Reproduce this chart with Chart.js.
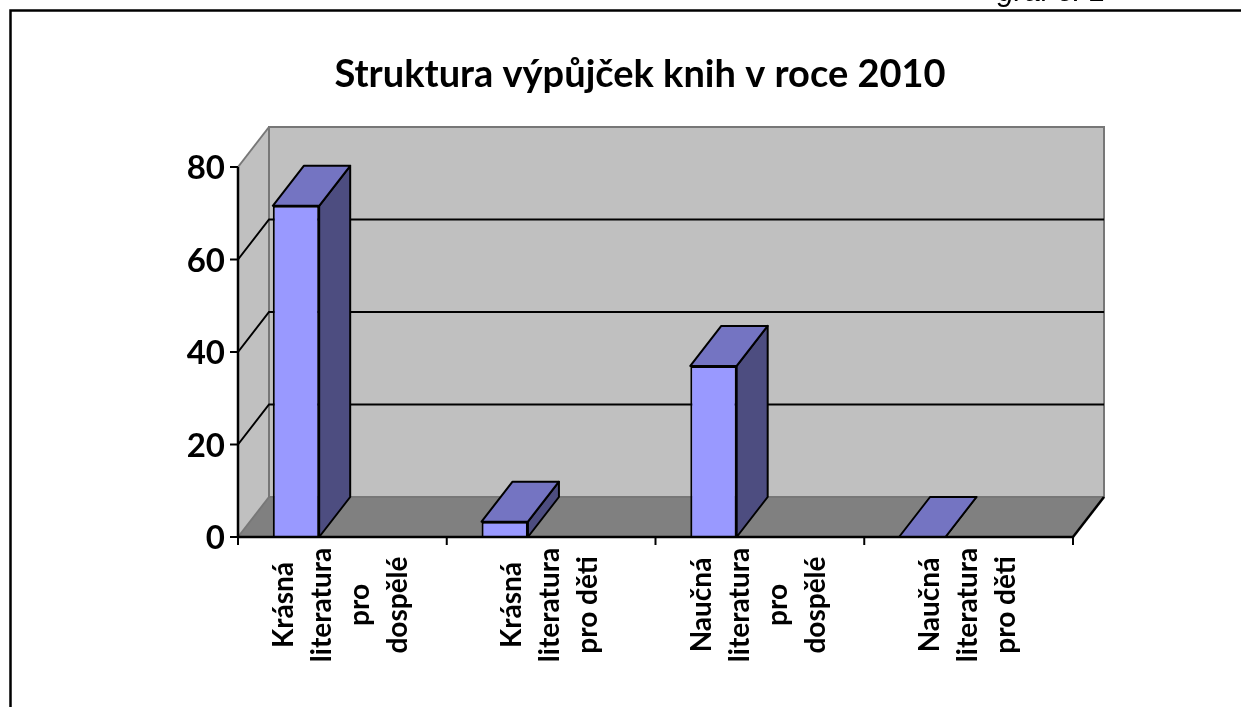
<!DOCTYPE html>
<html>
<head>
<meta charset="utf-8">
<script src="https://cdn.jsdelivr.net/npm/chart.js@4"></script>
<style>
  html, body { margin: 0; padding: 0; background: #fff; }
  #wrap { position: relative; width: 1241px; height: 707px; }
</style>
</head>
<body>
<div id="wrap"><canvas id="chart"></canvas></div>
<script>
// data
const chartTitle = "Struktura výpůjček knih v roce 2010";
const cornerNote = "graf č. 1";
const categories = [
  ["Krásná", "literatura", "pro", "dospělé"],
  ["Krásná", "literatura", "pro děti"],
  ["Naučná", "literatura", "pro", "dospělé"],
  ["Naučná", "literatura", "pro děti"],
];
const values = [71.6, 3.3, 37.0, 0];
// the original sheet has two more (empty) series, they only take up slots
const emptySeries = [null, null, null, null];
const yTicks = [0, 20, 40, 60, 80];

const DX = 31, DY = -40; // depth of the 3d box
const FONT = "Lato, 'Open Sans', sans-serif";

function poly(ctx, pts) {
  ctx.beginPath();
  ctx.moveTo(pts[0][0], pts[0][1]);
  for (let i = 1; i < pts.length; i++) ctx.lineTo(pts[i][0], pts[i][1]);
  ctx.closePath();
}

function line(ctx, x1, y1, x2, y2) {
  ctx.beginPath();
  ctx.moveTo(x1, y1);
  ctx.lineTo(x2, y2);
  ctx.stroke();
}

const scene3d = {
  id: "scene3d",
  beforeDraw(chart) {
    const { ctx, width, height } = chart;
    ctx.save();
    ctx.strokeStyle = "#000";
    ctx.lineWidth = 2.5;
    ctx.beginPath();
    ctx.moveTo(10.5, height);
    ctx.lineTo(10.5, 10.5);
    ctx.lineTo(width, 10.5);
    ctx.stroke();

    ctx.fillStyle = "#000";
    ctx.font = "italic 30px 'Liberation Sans', sans-serif";
    ctx.textAlign = "right";
    ctx.textBaseline = "alphabetic";
    ctx.fillText(cornerNote, 1106, 1);

    ctx.font = "bold 38px " + FONT;
    ctx.textAlign = "center";
    ctx.fillText(chartTitle, 640, 87);
    ctx.restore();
  },
  beforeDatasetsDraw(chart) {
    const { ctx } = chart;
    const { left, right } = chart.chartArea;
    const ys = chart.scales.y;
    const top = ys.getPixelForValue(ys.max);
    const bottom = ys.getPixelForValue(0);
    ctx.save();
    // side wall + back wall
    ctx.fillStyle = "#c0c0c0";
    poly(ctx, [[left, top], [left + DX, top + DY], [left + DX, bottom + DY], [left, bottom]]);
    ctx.fill();
    ctx.fillRect(left + DX, top + DY, right - left, bottom - top);
    // floor
    ctx.fillStyle = "#808080";
    poly(ctx, [[left, bottom], [left + DX, bottom + DY], [right + DX, bottom + DY], [right, bottom]]);
    ctx.fill();

    // wall edges
    ctx.strokeStyle = "#777";
    ctx.lineWidth = 2;
    ctx.strokeRect(left + DX, top + DY, right - left, bottom - top);
    line(ctx, left, top, left + DX, top + DY);
    line(ctx, left, bottom, left + DX, bottom + DY);

    // grid lines on side and back wall
    ctx.strokeStyle = "#000";
    ctx.lineWidth = 2;
    yTicks.forEach((v) => {
      if (v <= 0 || v >= ys.max) return;
      const py = ys.getPixelForValue(v);
      ctx.beginPath();
      ctx.moveTo(left, py);
      ctx.lineTo(left + DX, py + DY);
      ctx.lineTo(right + DX, py + DY);
      ctx.stroke();
    });
    ctx.restore();
  },
  afterDatasetsDraw(chart) {
    const { ctx } = chart;
    const { left, right } = chart.chartArea;
    const ys = chart.scales.y;
    const xs = chart.scales.x;
    const top = ys.getPixelForValue(ys.max);
    const bottom = ys.getPixelForValue(0);
    ctx.save();
    ctx.strokeStyle = "#000";
    ctx.lineWidth = 2;
    ctx.lineJoin = "round";

    // side and top faces of the bars
    const meta = chart.getDatasetMeta(0);
    meta.data.forEach((bar, i) => {
      if (values[i] == null) return;
      const { x, y, base, width } = bar.getProps(["x", "y", "base", "width"], true);
      const x1 = x - width / 2, x2 = x + width / 2;
      ctx.fillStyle = "#4d4d80";
      poly(ctx, [[x2, y], [x2 + DX, y + DY], [x2 + DX, base + DY], [x2, base]]);
      ctx.fill();
      ctx.stroke();
      ctx.fillStyle = "#7474c2";
      poly(ctx, [[x1, y], [x1 + DX, y + DY], [x2 + DX, y + DY], [x2, y]]);
      ctx.fill();
      ctx.stroke();
    });

    // axes
    ctx.lineWidth = 2.5;
    line(ctx, left, bottom, right, bottom);
    line(ctx, right, bottom, right + DX, bottom + DY);
    line(ctx, left, top, left, bottom + 1);

    ctx.lineWidth = 2;
    ctx.fillStyle = "#000";
    ctx.font = "bold 33px " + FONT;
    ctx.textAlign = "right";
    ctx.textBaseline = "alphabetic";
    yTicks.forEach((v) => {
      const py = ys.getPixelForValue(v);
      line(ctx, left - 8, py, left, py);
      ctx.fillText(String(v), left - 13, py + 12);
    });

    for (let i = 0; i <= categories.length; i++) {
      const px = xs.getPixelForValue(i - 0.5);
      line(ctx, px, bottom, px, bottom + 8);
    }

    // category labels, rotated, one column per line
    ctx.font = "bold 28px " + FONT;
    ctx.textAlign = "center";
    categories.forEach((lines, i) => {
      const cx = xs.getPixelForValue(i);
      lines.forEach((txt, j) => {
        const bx = cx + (j - (lines.length - 1) / 2) * 38 + 8;
        ctx.save();
        ctx.translate(bx, 605);
        ctx.rotate(-Math.PI / 2);
        ctx.fillText(txt, 0, 0);
        ctx.restore();
      });
    });
    ctx.restore();
  },
};

new Chart(document.getElementById("chart"), {
  type: "bar",
  data: {
    labels: categories,
    datasets: [
      {
        label: "Řada 1",
        data: values,
        backgroundColor: "#9999ff",
        borderColor: "#000",
        borderWidth: 2,
        borderSkipped: "start",
      },
      { label: "Řada 2", data: emptySeries, backgroundColor: "#993366" },
      { label: "Řada 3", data: emptySeries, backgroundColor: "#ffffcc" },
    ],
  },
  options: {
    responsive: true,
    maintainAspectRatio: false,
    animation: false,
    layout: { padding: { left: 238, right: 168, top: 167, bottom: 170 } },
    datasets: { bar: { categoryPercentage: 3 / 4.5, barPercentage: 1 } },
    scales: {
      x: { display: false, offset: true },
      y: { display: false, min: 0, max: 80, ticks: { stepSize: 20 } },
    },
    plugins: {
      legend: { display: false },
      title: { display: false },
      tooltip: { enabled: false },
    },
  },
  plugins: [scene3d],
});
</script>
</body>
</html>
